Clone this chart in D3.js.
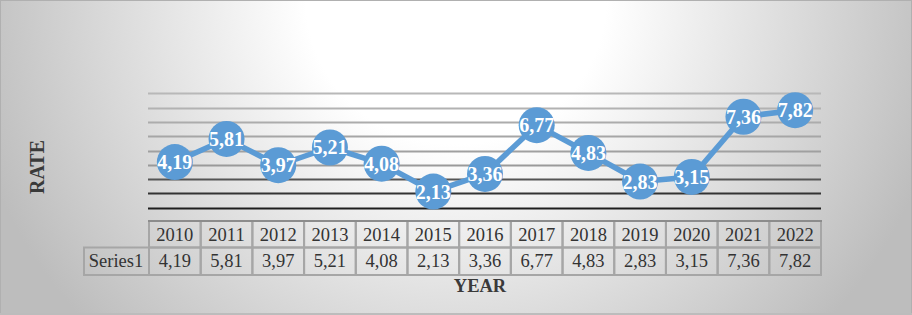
<!DOCTYPE html>
<html>
<head>
<meta charset="utf-8">
<script src="https://cdn.jsdelivr.net/npm/d3@7"></script>
<style>
html,body{margin:0;padding:0;overflow:hidden;background:#fff;}
svg{display:block;}
</style>
</head>
<body>
<script>
const categories = ["2010","2011","2012","2013","2014","2015","2016","2017","2018","2019","2020","2021","2022"];
const values = [4.19,5.81,3.97,5.21,4.08,2.13,3.36,6.77,4.83,2.83,3.15,7.36,7.82];
const labels = ["4,19","5,81","3,97","5,21","4,08","2,13","3,36","6,77","4,83","2,83","3,15","7,36","7,82"];
const seriesName = "Series1";
const yTicks = [1,2,3,4,5,6,7,8,9];
const xTitle = "YEAR";
const yTitle = "RATE";

const W = 912, H = 315;
const svg = d3.select("body").append("svg").attr("width", W).attr("height", H);
const defs = svg.append("defs");
const rg = defs.append("radialGradient").attr("id","bg")
  .attr("gradientUnits","userSpaceOnUse")
  .attr("cx",0).attr("cy",0).attr("r",1)
  .attr("gradientTransform","translate(456,0) scale(500,480)");
rg.append("stop").attr("offset","0").attr("stop-color","#ffffff");
rg.append("stop").attr("offset","0.3").attr("stop-color","#ffffff");
rg.append("stop").attr("offset","1").attr("stop-color","#bdbdbd");

svg.append("rect").attr("x",0).attr("y",0).attr("width",W).attr("height",H).attr("fill","url(#bg)");
svg.append("rect").attr("x",0.5).attr("y",0.5).attr("width",W-1).attr("height",H-1)
  .attr("fill","none").attr("stroke","#b0b0b0").attr("stroke-width",1);
svg.append("line").attr("x1",0).attr("x2",W).attr("y1",314).attr("y2",314).attr("stroke","#bcbcbc").attr("stroke-width",2);

const x = d3.scaleBand().domain(categories).range([149, 821]).padding(0);
const y = d3.scaleLinear().domain([0, 9]).range([222, 93.3]);

const serif = "'Liberation Serif','Times New Roman',serif";

// gridlines
const gridColor = d3.scaleLinear().domain([1,2,3,4,9]).range(["#1e1e1e","#333333","#555555","#9a9a9a","#b8b8b8"]);
const gAxis = svg.append("g").attr("class","grid");
gAxis.selectAll("line").data(yTicks).join("line")
  .attr("x1",148).attr("x2",821)
  .attr("y1",d=>Math.round(y(d))+0.5).attr("y2",d=>Math.round(y(d))+0.5)
  .attr("stroke",d=>gridColor(d)).attr("stroke-width",2);

// data table
const rowTop = 221, rowMid = 247.5, rowBot = 275;
const tbl = svg.append("g").attr("class","table");
const borderC = "#a6a6a6";
tbl.selectAll("rect.h").data(categories).join("rect").attr("class","h")
  .attr("x",d=>x(d)).attr("y",rowTop).attr("width",x.bandwidth()).attr("height",rowMid-rowTop)
  .attr("fill","none").attr("stroke",borderC).attr("stroke-width",2);
tbl.selectAll("rect.d").data(categories).join("rect").attr("class","d")
  .attr("x",d=>x(d)).attr("y",rowMid).attr("width",x.bandwidth()).attr("height",rowBot-rowMid)
  .attr("fill","none").attr("stroke",borderC).attr("stroke-width",2);
tbl.append("rect").attr("x",84).attr("y",rowMid).attr("width",149-84).attr("height",rowBot-rowMid)
  .attr("fill","none").attr("stroke",borderC).attr("stroke-width",2);
tbl.append("line").attr("x1",148).attr("x2",822).attr("y1",rowTop).attr("y2",rowTop)
  .attr("stroke","#8c8c8c").attr("stroke-width",2);

tbl.selectAll("text.h").data(categories).join("text").attr("class","h")
  .attr("x",d=>x(d)+x.bandwidth()/2).attr("y",241)
  .attr("text-anchor","middle").attr("font-family",serif).attr("font-size",18.5).attr("fill","#333")
  .text(d=>d);
tbl.selectAll("text.d").data(categories).join("text").attr("class","d")
  .attr("x",d=>x(d)+x.bandwidth()/2).attr("y",267)
  .attr("text-anchor","middle").attr("font-family",serif).attr("font-size",18.5).attr("fill","#333")
  .text((d,i)=>labels[i]);
tbl.append("text").attr("x",116).attr("y",267).attr("text-anchor","middle")
  .attr("font-family",serif).attr("font-size",18.5).attr("fill","#333").text(seriesName);

// line
const pts = categories.map((c,i)=>({c, v: values[i], l: labels[i]}));
const line = d3.line().x(d=>x(d.c)+x.bandwidth()/2).y(d=>y(d.v));
svg.append("path").datum(pts).attr("d",line)
  .attr("fill","none").attr("stroke","#5b9bd5").attr("stroke-width",5.5).attr("stroke-linejoin","round");
svg.selectAll("circle.pt").data(pts).join("circle").attr("class","pt")
  .attr("cx",d=>x(d.c)+x.bandwidth()/2).attr("cy",d=>y(d.v)).attr("r",18)
  .attr("fill","#5b9bd5");
svg.selectAll("text.lbl").data(pts).join("text").attr("class","lbl")
  .attr("x",d=>x(d.c)+x.bandwidth()/2).attr("y",d=>y(d.v)+7)
  .attr("text-anchor","middle").attr("font-family",serif).attr("font-weight","bold")
  .attr("font-size",20).attr("fill","#fff").text(d=>d.l);

// titles
svg.append("text").attr("x",480).attr("y",292).attr("text-anchor","middle")
  .attr("font-family",serif).attr("font-weight","bold").attr("font-size",18.5).attr("fill","#3a3a3a")
  .text(xTitle);
svg.append("text").attr("transform","translate(44,167) rotate(-90)").attr("text-anchor","middle")
  .attr("font-family",serif).attr("font-weight","bold").attr("font-size",20).attr("fill","#3a3a3a")
  .text(yTitle);
</script>
</body>
</html>
